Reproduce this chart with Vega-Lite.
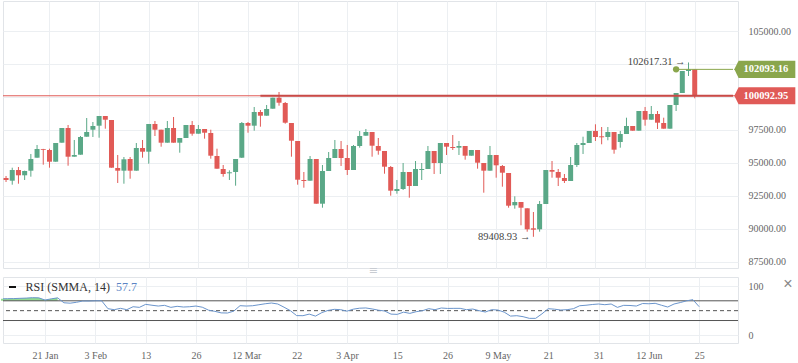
{
  "$schema": "https://vega.github.io/schema/vega-lite/v6.json",
  "padding": 0,
  "background": "white",
  "spacing": 9,
  "bounds": "flush",
  "config": {
    "view": {"stroke": "#e1e4e8"},
    "font": "Liberation Serif",
    "axis": {"gridColor": "#eceff2", "labelFont": "Liberation Serif", "labelFontSize": 10, "labelColor": "#666666", "domain": false, "ticks": false, "labelOverlap": false}
  },
  "datasets": {
    "k": [
      {"i":-1,"o":93863,"h":94015,"l":93561,"c":93712,"rsi":74},
      {"i":0,"o":93659,"h":94644,"l":93356,"c":94470,"rsi":74.3},
      {"i":1,"o":94470,"h":94697,"l":93431,"c":94068,"rsi":74.5},
      {"i":2,"o":94068,"h":94420,"l":93712,"c":94394,"rsi":75},
      {"i":3,"o":94417,"h":95682,"l":93962,"c":95303,"rsi":75.5},
      {"i":4,"o":95401,"h":96364,"l":95401,"c":96061,"rsi":76.3},
      {"i":5,"o":96061,"h":96070,"l":94871,"c":96000,"rsi":76},
      {"i":6,"o":95985,"h":96083,"l":94644,"c":95098,"rsi":71.6},
      {"i":7,"o":95098,"h":96515,"l":95098,"c":96515,"rsi":74},
      {"i":8,"o":96538,"h":97651,"l":96538,"c":97651,"rsi":76},
      {"i":9,"o":97651,"h":97879,"l":94795,"c":95477,"rsi":66},
      {"i":10,"o":95477,"h":96743,"l":95477,"c":95606,"rsi":65.2},
      {"i":11,"o":95629,"h":97045,"l":95629,"c":96970,"rsi":67},
      {"i":12,"o":96992,"h":98409,"l":96992,"c":97349,"rsi":69.6},
      {"i":13,"o":97523,"h":98106,"l":96970,"c":97803,"rsi":69.5},
      {"i":14,"o":97826,"h":98561,"l":96917,"c":98561,"rsi":70},
      {"i":15,"o":98561,"h":98561,"l":97599,"c":98280,"rsi":70},
      {"i":16,"o":98258,"h":98258,"l":94644,"c":94644,"rsi":54},
      {"i":17,"o":94621,"h":95606,"l":93485,"c":94417,"rsi":52},
      {"i":18,"o":94417,"h":95454,"l":93431,"c":95280,"rsi":54.7},
      {"i":19,"o":95303,"h":95454,"l":93810,"c":94417,"rsi":52},
      {"i":20,"o":94417,"h":96515,"l":94417,"c":96136,"rsi":58},
      {"i":21,"o":96136,"h":96743,"l":95401,"c":95856,"rsi":56.7},
      {"i":22,"o":95856,"h":97955,"l":94947,"c":97955,"rsi":62.8},
      {"i":23,"o":97955,"h":98182,"l":97045,"c":97523,"rsi":61},
      {"i":24,"o":97523,"h":97523,"l":96235,"c":96538,"rsi":59.4},
      {"i":25,"o":96538,"h":98182,"l":96538,"c":97651,"rsi":60.8},
      {"i":26,"o":97651,"h":98485,"l":96538,"c":96538,"rsi":56.7},
      {"i":27,"o":96538,"h":96894,"l":95780,"c":96894,"rsi":58.8},
      {"i":28,"o":96894,"h":97879,"l":96894,"c":97879,"rsi":57.4},
      {"i":29,"o":97879,"h":98182,"l":97068,"c":97220,"rsi":58},
      {"i":30,"o":97220,"h":97879,"l":97220,"c":97576,"rsi":59.4},
      {"i":31,"o":97576,"h":97576,"l":96841,"c":97295,"rsi":57},
      {"i":32,"o":97273,"h":97523,"l":95326,"c":95553,"rsi":51},
      {"i":33,"o":95530,"h":96083,"l":94568,"c":94568,"rsi":48.6},
      {"i":34,"o":94545,"h":94848,"l":93962,"c":94167,"rsi":45.5},
      {"i":35,"o":94220,"h":94447,"l":93712,"c":94295,"rsi":45.2},
      {"i":36,"o":94318,"h":95303,"l":93280,"c":95303,"rsi":49},
      {"i":37,"o":95401,"h":98106,"l":95379,"c":98030,"rsi":60.1},
      {"i":38,"o":98030,"h":98106,"l":97295,"c":97826,"rsi":59.4},
      {"i":39,"o":97826,"h":99243,"l":97447,"c":98864,"rsi":60},
      {"i":40,"o":98864,"h":99015,"l":97750,"c":98583,"rsi":62},
      {"i":41,"o":98583,"h":99394,"l":98583,"c":99091,"rsi":64},
      {"i":42,"o":99114,"h":99947,"l":99114,"c":99947,"rsi":65.5},
      {"i":43,"o":99947,"h":100379,"l":99341,"c":99568,"rsi":63.5},
      {"i":44,"o":99545,"h":99621,"l":97977,"c":98053,"rsi":57},
      {"i":45,"o":98030,"h":98030,"l":95477,"c":96689,"rsi":50},
      {"i":46,"o":96667,"h":96667,"l":93356,"c":93734,"rsi":40},
      {"i":47,"o":93712,"h":94318,"l":93129,"c":93636,"rsi":39.8},
      {"i":48,"o":93659,"h":95530,"l":93659,"c":95303,"rsi":43},
      {"i":49,"o":95303,"h":95303,"l":91916,"c":91916,"rsi":39},
      {"i":50,"o":91916,"h":94848,"l":91613,"c":94394,"rsi":46},
      {"i":51,"o":94394,"h":95833,"l":94394,"c":95379,"rsi":50.5},
      {"i":52,"o":95379,"h":96743,"l":95379,"c":96061,"rsi":52.7},
      {"i":53,"o":96061,"h":96667,"l":94773,"c":95379,"rsi":52},
      {"i":54,"o":95379,"h":96364,"l":94091,"c":94470,"rsi":49},
      {"i":55,"o":94470,"h":96364,"l":94470,"c":96288,"rsi":53},
      {"i":56,"o":96288,"h":97424,"l":96159,"c":97045,"rsi":55},
      {"i":57,"o":97068,"h":97576,"l":97068,"c":97349,"rsi":55.5},
      {"i":58,"o":97349,"h":97349,"l":95477,"c":96311,"rsi":53.5},
      {"i":59,"o":96288,"h":96894,"l":95629,"c":95932,"rsi":51},
      {"i":60,"o":95909,"h":95909,"l":94189,"c":94720,"rsi":49.3},
      {"i":61,"o":94697,"h":94773,"l":92523,"c":92902,"rsi":43},
      {"i":62,"o":92879,"h":93712,"l":92674,"c":93030,"rsi":42.5},
      {"i":63,"o":93030,"h":95000,"l":92955,"c":94318,"rsi":47},
      {"i":64,"o":94318,"h":94318,"l":92371,"c":93257,"rsi":44.5},
      {"i":65,"o":93257,"h":95151,"l":93257,"c":94545,"rsi":47.9},
      {"i":66,"o":94470,"h":95000,"l":93712,"c":94545,"rsi":49.9},
      {"i":67,"o":94545,"h":96288,"l":94545,"c":95909,"rsi":54},
      {"i":68,"o":95909,"h":95909,"l":94167,"c":95000,"rsi":52},
      {"i":69,"o":95000,"h":96515,"l":94167,"c":96515,"rsi":55.4},
      {"i":70,"o":96515,"h":96515,"l":95606,"c":96235,"rsi":54.5},
      {"i":71,"o":96212,"h":97121,"l":95985,"c":96136,"rsi":54.7},
      {"i":72,"o":96159,"h":96667,"l":95606,"c":96288,"rsi":54.7},
      {"i":73,"o":96288,"h":96288,"l":95250,"c":95553,"rsi":52},
      {"i":74,"o":95553,"h":95985,"l":95553,"c":95985,"rsi":53.3},
      {"i":75,"o":95985,"h":95985,"l":94568,"c":95023,"rsi":50},
      {"i":76,"o":95000,"h":95000,"l":92750,"c":94417,"rsi":47.2},
      {"i":77,"o":94417,"h":96288,"l":94417,"c":95606,"rsi":52},
      {"i":78,"o":95606,"h":95606,"l":93886,"c":94826,"rsi":51.3},
      {"i":79,"o":94773,"h":94848,"l":93205,"c":94265,"rsi":47},
      {"i":80,"o":94242,"h":94242,"l":91613,"c":91765,"rsi":39},
      {"i":81,"o":91795,"h":92477,"l":91538,"c":92045,"rsi":39.8},
      {"i":82,"o":92045,"h":92045,"l":90280,"c":91613,"rsi":37.8},
      {"i":83,"o":91568,"h":91568,"l":89795,"c":89977,"rsi":34.4},
      {"i":84,"o":90053,"h":91288,"l":89408.93,"c":89947,"rsi":34.4},
      {"i":85,"o":89977,"h":92121,"l":89795,"c":91894,"rsi":43.5},
      {"i":86,"o":91894,"h":94470,"l":91894,"c":94470,"rsi":54},
      {"i":87,"o":94470,"h":95151,"l":93886,"c":94341,"rsi":53},
      {"i":88,"o":94318,"h":94545,"l":93257,"c":93886,"rsi":51.3},
      {"i":89,"o":93863,"h":94167,"l":93485,"c":93636,"rsi":52},
      {"i":90,"o":93636,"h":95454,"l":93636,"c":94848,"rsi":54},
      {"i":91,"o":94848,"h":96515,"l":94697,"c":96364,"rsi":60},
      {"i":92,"o":96364,"h":96992,"l":95682,"c":96515,"rsi":61},
      {"i":93,"o":96515,"h":97424,"l":96515,"c":97424,"rsi":62.5},
      {"i":94,"o":97424,"h":97932,"l":96667,"c":96970,"rsi":63.5},
      {"i":95,"o":97023,"h":97727,"l":96417,"c":96947,"rsi":62.1},
      {"i":96,"o":96970,"h":97727,"l":96720,"c":97349,"rsi":63.5},
      {"i":97,"o":97349,"h":97349,"l":95704,"c":96008,"rsi":56.7},
      {"i":98,"o":96591,"h":97424,"l":96159,"c":97197,"rsi":60.8},
      {"i":99,"o":97197,"h":98432,"l":97197,"c":97803,"rsi":60.5},
      {"i":100,"o":97803,"h":97803,"l":97447,"c":97447,"rsi":59.4},
      {"i":101,"o":97447,"h":98939,"l":97447,"c":98939,"rsi":64.5},
      {"i":102,"o":98939,"h":99243,"l":97826,"c":98280,"rsi":64},
      {"i":103,"o":98280,"h":99318,"l":98280,"c":98712,"rsi":64.9},
      {"i":104,"o":98712,"h":98939,"l":97576,"c":98053,"rsi":61},
      {"i":105,"o":98030,"h":98432,"l":97599,"c":97599,"rsi":57.4},
      {"i":106,"o":97599,"h":99394,"l":97599,"c":99394,"rsi":63.5},
      {"i":107,"o":99394,"h":100303,"l":98939,"c":100303,"rsi":66.5},
      {"i":108,"o":100303,"h":101970,"l":100303,"c":101970,"rsi":70},
      {"i":109,"o":101970,"h":102617.31,"l":101591,"c":102093.16,"rsi":72.3},
      {"i":110,"o":102093.16,"h":102093.16,"l":99900,"c":100092.95,"rsi":58}
    ]
  },
  "vconcat": [
    {
      "width": 735,
      "height": 267,
      "data": {"name": "k"},
      "layer": [
        {
          "mark": {"type": "rule", "clip": true, "strokeWidth": 1},
          "encoding": {
            "x": {"field": "i", "type": "quantitative", "title": null, "scale": {"domain": [-0.684, 116.17], "nice": false, "zero": false}, "axis": {"values": [6,14,22,30,38,46,54,62,70,78,86,94,102,110], "tickCount": 40, "labels": false, "grid": true, "title": null}},
            "y": {"field": "l", "type": "quantitative", "title": null, "scale": {"domain": [87045, 107273], "nice": false, "zero": false}, "axis": {"orient": "right", "values": [87500,90000,92500,95000,97500,100000,102500,105000], "tickCount": 40, "labelExpr": "datum.value == 100000 || datum.value == 102500 ? '' : format(datum.value, '.2f')", "labelOverlap": false, "labelBound": false, "labelPadding": 10, "grid": true, "title": null}},
            "y2": {"field": "h"},
            "color": {"condition": {"test": "datum.c >= datum.o", "value": "#5aa887"}, "value": "#e15a56"}
          }
        },
        {
          "mark": {"type": "bar", "clip": true, "size": 5},
          "encoding": {
            "x": {"field": "i", "type": "quantitative", "title": null},
            "y": {"field": "o", "type": "quantitative", "title": null},
            "y2": {"field": "c"},
            "color": {"condition": {"test": "datum.c >= datum.o", "value": "#5aa887"}, "value": "#e15a56"}
          }
        },
        {
          "data": {"values": [{"p": 100092.95}]},
          "mark": {"type": "rule", "color": "#e05a57", "strokeWidth": 1},
          "encoding": {"y": {"field": "p", "type": "quantitative", "title": null}}
        },
        {
          "data": {"values": [{"p": 100092.95, "from": 40}]},
          "mark": {"type": "rule", "color": "#c84a47", "strokeWidth": 2, "clip": true},
          "encoding": {
            "x": {"field": "from", "type": "quantitative", "title": null},
            "x2": {"datum": 116.17},
            "y": {"field": "p", "type": "quantitative", "title": null}
          }
        },
        {
          "data": {"values": [{"p": 102093.16, "from": 107}]},
          "mark": {"type": "rule", "color": "#8aa64c", "strokeWidth": 1, "clip": true},
          "encoding": {
            "x": {"field": "from", "type": "quantitative", "title": null},
            "x2": {"datum": 116.17},
            "y": {"field": "p", "type": "quantitative", "title": null}
          }
        },
        {
          "data": {"values": [{"p": 102093.16, "from": 107}]},
          "mark": {"type": "point", "filled": true, "color": "#8aa64c", "size": 40, "opacity": 1},
          "encoding": {
            "x": {"field": "from", "type": "quantitative", "title": null},
            "y": {"field": "p", "type": "quantitative", "title": null}
          }
        },
        {
          "data": {"values": [{"i": 109, "p": 102617.31, "t": "102617.31 →"}, {"i": 84, "p": 89408.93, "t": "89408.93 →"}]},
          "mark": {"type": "text", "align": "right", "baseline": "middle", "dx": -3, "fontSize": 10.5, "color": "#444444", "font": "Liberation Serif"},
          "encoding": {
            "x": {"field": "i", "type": "quantitative", "title": null},
            "y": {"field": "p", "type": "quantitative", "title": null},
            "text": {"field": "t"}
          }
        },
        {
          "data": {"values": [{"p": 102093.16}, {"p": 100092.95}]},
          "mark": {"type": "point", "filled": true, "opacity": 1, "size": 3721, "shape": "M-1,0 L-0.86,-0.28 L1,-0.28 L1,0.28 L-0.86,0.28 Z"},
          "encoding": {
            "x": {"datum": 121.3},
            "y": {"field": "p", "type": "quantitative", "title": null},
            "color": {"condition": {"test": "datum.p > 101000", "value": "#8aa64c"}, "value": "#e05a57"}
          }
        },
        {
          "data": {"values": [{"p": 102093.16}, {"p": 100092.95}]},
          "mark": {"type": "text", "align": "center", "baseline": "middle", "dx": 1, "fontSize": 10.5, "fontWeight": "bold", "color": "white", "font": "Liberation Serif"},
          "encoding": {
            "x": {"datum": 121.3},
            "y": {"field": "p", "type": "quantitative", "title": null},
            "text": {"field": "p", "format": ".2f"}
          }
        },
        {
          "data": {"values": [{"t": "≡"}]},
          "mark": {"type": "text", "align": "center", "baseline": "middle", "fontSize": 11, "color": "#c8ccd2", "font": "DejaVu Sans"},
          "encoding": {
            "x": {"datum": 58.2},
            "y": {"datum": 86818},
            "text": {"field": "t"}
          }
        }
      ]
    },
    {
      "width": 735,
      "height": 66,
      "data": {"name": "k"},
      "layer": [
        {
          "transform": [{"filter": "datum.rsi > 70 && datum.i < 20"}],
          "mark": {"type": "area", "color": "#7fd67f", "opacity": 0.85},
          "encoding": {
            "x": {"field": "i", "type": "quantitative", "title": null, "scale": {"domain": [-0.684, 116.17], "nice": false, "zero": false}, "axis": {"values": [6,14,22,30,38,46,54,62,70,78,86,94,102,110], "tickCount": 40, "grid": true, "title": null, "labelPadding": 7, "labelExpr": "datum.value==6?'21 Jan':datum.value==14?'3 Feb':datum.value==22?'13':datum.value==30?'26':datum.value==38?'12 Mar':datum.value==46?'22':datum.value==54?'3 Apr':datum.value==62?'15':datum.value==70?'26':datum.value==78?'9 May':datum.value==86?'21':datum.value==94?'31':datum.value==102?'12 Jun':'25'"}},
            "y": {"field": "rsi", "type": "quantitative", "title": null, "scale": {"domain": [-15.6, 118.3], "nice": false, "zero": false}, "axis": {"orient": "right", "values": [0, 100], "tickCount": 10, "labelPadding": 10, "labelOverlap": false, "grid": true, "title": null}},
            "y2": {"datum": 70}
          }
        },
        {
          "data": {"values": [{"v": 70}, {"v": 30}]},
          "mark": {"type": "rule", "color": "#555555", "strokeWidth": 1},
          "encoding": {"y": {"field": "v", "type": "quantitative", "title": null}}
        },
        {
          "data": {"values": [{"v": 50}]},
          "mark": {"type": "rule", "color": "#555555", "strokeWidth": 1, "strokeDash": [4, 3]},
          "encoding": {"y": {"field": "v", "type": "quantitative", "title": null}}
        },
        {
          "mark": {"type": "line", "color": "#6b95cc", "strokeWidth": 1, "clip": true},
          "encoding": {
            "x": {"field": "i", "type": "quantitative", "title": null},
            "y": {"field": "rsi", "type": "quantitative", "title": null}
          }
        },
        {
          "data": {"values": [{"a": 0.27, "b": 1.38, "v": 98}]},
          "mark": {"type": "rule", "color": "#111111", "strokeWidth": 2},
          "encoding": {
            "x": {"field": "a", "type": "quantitative", "title": null},
            "x2": {"field": "b"},
            "y": {"field": "v", "type": "quantitative", "title": null}
          }
        },
        {
          "data": {"values": [{"x": 2.9, "v": 98, "t": "RSI (SMMA, 14)"}]},
          "mark": {"type": "text", "align": "left", "baseline": "middle", "fontSize": 12, "color": "#333333", "font": "Liberation Serif"},
          "encoding": {
            "x": {"field": "x", "type": "quantitative", "title": null},
            "y": {"field": "v", "type": "quantitative", "title": null},
            "text": {"field": "t"}
          }
        },
        {
          "data": {"values": [{"x": 17.3, "v": 98, "t": "57.7"}]},
          "mark": {"type": "text", "align": "left", "baseline": "middle", "fontSize": 12, "color": "#5b84c4", "font": "Liberation Serif"},
          "encoding": {
            "x": {"field": "x", "type": "quantitative", "title": null},
            "y": {"field": "v", "type": "quantitative", "title": null},
            "text": {"field": "t"}
          }
        },
        {
          "data": {"values": [{"t": "×"}]},
          "mark": {"type": "text", "align": "center", "baseline": "middle", "fontSize": 16, "color": "#888888", "font": "Liberation Sans"},
          "encoding": {
            "x": {"datum": 124.1},
            "y": {"datum": 104},
            "text": {"field": "t"}
          }
        }
      ]
    }
  ]
}
